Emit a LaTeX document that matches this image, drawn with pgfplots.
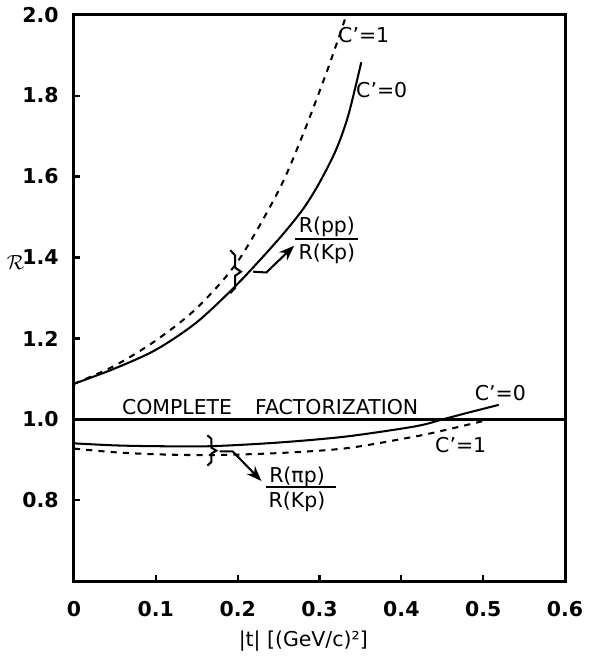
\documentclass[border=0pt]{standalone}
\usepackage{pgfplots}
\pgfplotsset{compat=1.18}
\usepackage{fontspec}
\setmainfont{DejaVu Sans}
\usetikzlibrary{arrows.meta}

\begin{document}
\begin{tikzpicture}
\begin{axis}[
    scale only axis,
    width=240pt, height=277pt,
    xmin=0, xmax=0.6, ymin=0.6, ymax=2.0,
    axis line style={line width=1.5pt},
    tick align=inside, tick pos=left,
    major tick length=3pt,
    tick style={line width=1pt, black},
    xtick={0,0.1,0.2,0.3,0.4,0.5,0.6},
    xticklabels={0,0.1,0.2,0.3,0.4,0.5,0.6},
    ytick={0.8,1.0,1.2,1.4,1.6,1.8,2.0},
    yticklabels={0.8,1.0,1.2,1.4,1.6,1.8,2.0},
    ticklabel style={font=\bfseries},
    xticklabel style={yshift=-6pt},
    yticklabel style={xshift=-4pt},
    xlabel={|t| [(GeV/c)²]},
    xlabel style={at={(rel axis cs:0.467,-0.105)}, anchor=center},
    ylabel={$\mathcal{R}$},
    ylabel style={rotate=-90, at={(rel axis cs:-0.119,0.563)}, anchor=center},
    clip=false,
]
\addplot [black, line width=1pt, smooth] coordinates {
 (0,1.088) (0.05,1.126) (0.10,1.172) (0.15,1.240) (0.20,1.335) (0.25,1.445)
 (0.28,1.520) (0.30,1.585) (0.32,1.665) (0.335,1.750) (0.351,1.882)};
\addplot [black, line width=1pt, smooth, dashed] coordinates {
 (0,1.088) (0.05,1.133) (0.10,1.195) (0.15,1.275) (0.20,1.390)
 (0.25,1.565) (0.28,1.705) (0.31,1.865) (0.333,2.0)};
\addplot [black, line width=1.4pt] coordinates {(0,1.0) (0.6,1.0)};
\addplot [black, line width=1pt, smooth] coordinates {
 (0,0.941) (0.05,0.936) (0.10,0.934) (0.167,0.934) (0.25,0.943)
 (0.333,0.958) (0.417,0.983) (0.45,1.0) (0.48,1.016) (0.519,1.036)};
\addplot [black, line width=1pt, smooth, dashed] coordinates {
 (0,0.928) (0.05,0.919) (0.10,0.914) (0.167,0.912) (0.25,0.917)
 (0.333,0.929) (0.417,0.958) (0.458,0.976) (0.508,1.0)};

\node at (axis cs:0.354,1.95) {C'=1};
\node at (axis cs:0.376,1.814) {C'=0};
\node at (axis cs:0.521,1.064) {C'=0};
\node at (axis cs:0.4725,0.936) {C'=1};
\node at (axis cs:0.126,1.031) {COMPLETE};
\node at (axis cs:0.321,1.031) {FACTORIZATION};
\node at (axis cs:0.309,1.475) {R(pp)};
\node at (axis cs:0.309,1.410) {R(Kp)};
\node at (axis cs:0.2725,0.858) {R(πp)};
\node at (axis cs:0.2725,0.796) {R(Kp)};
\draw[line width=0.8pt] (axis cs:0.27,1.445) -- (axis cs:0.3475,1.445);
\draw[line width=0.8pt] (axis cs:0.235,0.833) -- (axis cs:0.32,0.833);
\draw[line width=1pt]
  (axis cs:0.191,1.418) -- (axis cs:0.197,1.405) -- (axis cs:0.197,1.375) -- (axis cs:0.204,1.365)
  -- (axis cs:0.197,1.355) -- (axis cs:0.197,1.325) -- (axis cs:0.191,1.312);
\draw[line width=1pt]
  (axis cs:0.163,0.961) -- (axis cs:0.168,0.952) -- (axis cs:0.168,0.930) -- (axis cs:0.174,0.923)
  -- (axis cs:0.168,0.916) -- (axis cs:0.168,0.895) -- (axis cs:0.163,0.886);
\draw[line width=1pt, -Stealth]
  (axis cs:0.219,1.365) -- (axis cs:0.235,1.363) -- (axis cs:0.269,1.429);
\draw[line width=1pt, -Stealth]
  (axis cs:0.178,0.921) -- (axis cs:0.194,0.921) -- (axis cs:0.229,0.848);
\end{axis}
\end{tikzpicture}
\end{document}
